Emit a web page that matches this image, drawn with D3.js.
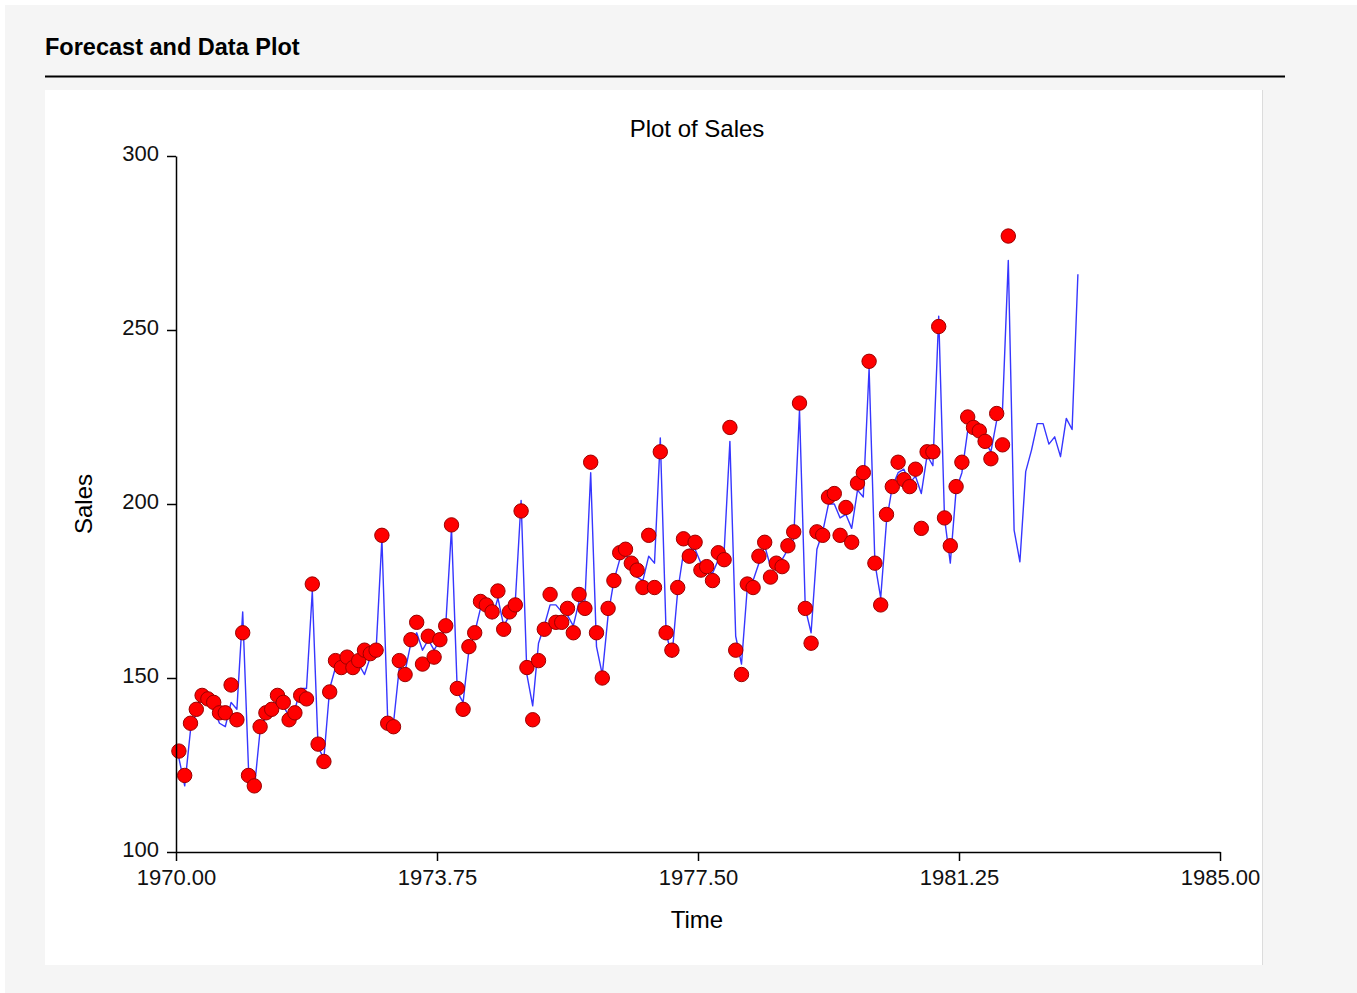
<!DOCTYPE html>
<html>
<head>
<meta charset="utf-8">
<script src="https://cdn.jsdelivr.net/npm/d3@7"></script>
<style>
  body { margin: 0; background: #fff; }
  svg { display: block; font-family: "Liberation Sans", Arial, sans-serif; }
</style>
</head>
<body>
<svg id="page" width="1357" height="993"></svg>
<script>
// monthly sales, Jan 1970 .. Dec 1981
var sales = [
  129, 122, 137, 141, 145, 144, 143, 140, 140, 148, 138, 163,
  122, 119, 136, 140, 141, 145, 143, 138, 140, 145, 144, 177,
  131, 126, 146, 155, 153, 156, 153, 155, 158, 157, 158, 191,
  137, 136, 155, 151, 161, 166, 154, 162, 156, 161, 165, 194,
  147, 141, 159, 163, 172, 171, 169, 175, 164, 169, 171, 198,
  153, 138, 155, 164, 174, 166, 166, 170, 163, 174, 170, 212,
  163, 150, 170, 178, 186, 187, 183, 181, 176, 191, 176, 215,
  163, 158, 176, 190, 185, 189, 181, 182, 178, 186, 184, 222,
  158, 151, 177, 176, 185, 189, 179, 183, 182, 188, 192, 229,
  170, 160, 192, 191, 202, 203, 191, 199, 189, 206, 209, 241,
  183, 171, 197, 205, 212, 207, 205, 210, 193, 215, 215, 251,
  196, 188, 205, 212, 225, 222, 221, 218, 213, 226, 217, 277
];

// fitted values over the same months
var fitted = [
  127, 119, 135, 140, 145, 143, 141, 137, 136, 143, 141, 169,
  124, 118, 135, 139, 141, 144, 142, 139, 141, 147, 147, 175,
  130, 127, 147, 153, 154, 155, 154, 154, 151, 156, 158, 190,
  138, 137, 153, 152, 160, 163, 158, 161, 158, 161, 165, 193,
  146, 143, 158, 163, 170, 171, 167, 173, 165, 168, 172, 201,
  151, 142, 160, 165, 171, 171, 169, 168, 165, 172, 172, 209,
  159, 151, 168, 178, 184, 186, 182, 179, 178, 185, 183, 219,
  163, 156, 175, 186, 187, 187, 183, 181, 180, 184, 186, 218,
  162, 154, 176, 178, 183, 188, 182, 181, 184, 187, 190, 227,
  170, 163, 187, 192, 200, 200, 196, 197, 193, 204, 202, 239,
  183, 173, 195, 205, 209, 210, 206, 208, 203, 214, 211, 254,
  196, 183, 204, 209, 221, 222, 220, 218, 215, 224, 227, 270
];

// forecast, Jan .. Dec 1982
var forecast = [192.5, 183.4, 209.3, 215.5, 223.1, 223.1, 217.2, 219.3, 213.6, 224.6, 221.4, 266];

var startYear = 1970;
var xTicks = [1970, 1973.75, 1977.5, 1981.25, 1985];
var yTicks = [100, 150, 200, 250, 300];

(function() {
    var svg = d3.select("#page");

    // grey page frame + header
    svg.append("rect")
        .attr("x", 5).attr("y", 5)
        .attr("width", 1352).attr("height", 988)
        .attr("fill", "#f5f5f5");

    svg.append("text")
        .attr("x", 45).attr("y", 55)
        .attr("font-size", 23.5).attr("font-weight", "bold")
        .attr("fill", "#000")
        .text("Forecast and Data Plot");

    svg.append("line")
        .attr("x1", 45).attr("x2", 1285)
        .attr("y1", 76.5).attr("y2", 76.5)
        .attr("stroke", "#000").attr("stroke-width", 2);

    svg.append("rect")
        .attr("x", 45).attr("y", 90)
        .attr("width", 1217).attr("height", 875)
        .attr("fill", "#fff");
    svg.append("line")
        .attr("x1", 1262.5).attr("x2", 1262.5)
        .attr("y1", 90).attr("y2", 965)
        .attr("stroke", "#dcdcdc");

    var x = d3.scaleLinear().domain([1970, 1985]).range([176, 1220]),
        y = d3.scaleLinear().domain([100, 300]).range([852, 156]);

    // months are plotted at mid-month
    function t(i) { return startYear + (i + 0.5) / 12; }

    var lineVals = fitted.concat(forecast);

    var line = d3.line()
        .x(function(d, i) { return x(t(i)); })
        .y(function(d) { return y(d); });

    svg.append("path")
        .datum(lineVals)
        .attr("d", line)
        .attr("fill", "none")
        .attr("stroke", "#3636ff")
        .attr("stroke-width", 1.4)
        .attr("stroke-linejoin", "round");

    svg.append("g").selectAll("circle")
        .data(sales)
        .enter().append("circle")
        .attr("cx", function(d, i) { return x(t(i)); })
        .attr("cy", function(d) { return y(d); })
        .attr("r", 7.2)
        .attr("fill", "#ff0000")
        .attr("stroke", "#9a0000")
        .attr("stroke-width", 1);

    // axes
    var xAxis = d3.axisBottom(x)
        .tickValues(xTicks)
        .tickFormat(d3.format(".2f"))
        .tickSize(9).tickSizeOuter(0).tickPadding(8);

    var yAxis = d3.axisLeft(y)
        .tickValues(yTicks)
        .tickSize(9).tickSizeOuter(0).tickPadding(8);

    var gx = svg.append("g").attr("transform", "translate(0,852)").call(xAxis);
    var gy = svg.append("g").attr("transform", "translate(176,0)").call(yAxis);

    [gx, gy].forEach(function(g) {
        g.selectAll("path, line").attr("stroke", "#000").attr("stroke-width", 1.5);
        g.selectAll("text")
            .attr("font-size", 22)
            .attr("font-family", "'Liberation Sans', Arial, sans-serif")
            .attr("fill", "#111");
    });
    gy.selectAll("text").attr("dy", "0.2em");

    // titles
    svg.append("text")
        .attr("x", 697).attr("y", 137)
        .attr("text-anchor", "middle")
        .attr("font-size", 24)
        .text("Plot of Sales");

    svg.append("text")
        .attr("x", 697).attr("y", 928)
        .attr("text-anchor", "middle")
        .attr("font-size", 24)
        .text("Time");

    svg.append("text")
        .attr("transform", "translate(92,504) rotate(-90)")
        .attr("text-anchor", "middle")
        .attr("font-size", 24)
        .text("Sales");
})();
</script>
</body>
</html>
